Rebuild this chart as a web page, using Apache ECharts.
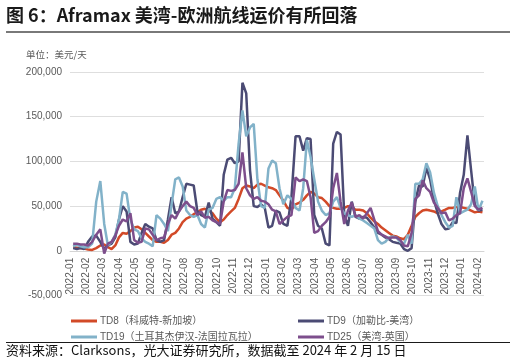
<!DOCTYPE html>
<html><head><meta charset="utf-8">
<script src="https://cdn.jsdelivr.net/npm/echarts@6/dist/echarts.min.js"></script>
<style>html,body{margin:0;padding:0;background:#fff;}#c{width:516px;height:364px;}</style>
</head><body><div id="c"></div>
<script>
// weekly observation dates
const dates = [
'2022-01-07','2022-01-14','2022-01-21','2022-01-28','2022-02-04','2022-02-11','2022-02-18','2022-02-25',
'2022-03-04','2022-03-11','2022-03-18','2022-03-25','2022-04-01','2022-04-08','2022-04-15','2022-04-22','2022-04-29',
'2022-05-06','2022-05-13','2022-05-20','2022-05-27','2022-06-03','2022-06-10','2022-06-17','2022-06-24',
'2022-07-01','2022-07-08','2022-07-15','2022-07-22','2022-07-29','2022-08-05','2022-08-12','2022-08-19','2022-08-26',
'2022-09-02','2022-09-09','2022-09-16','2022-09-23','2022-09-30','2022-10-07','2022-10-14','2022-10-21','2022-10-28',
'2022-11-04','2022-11-11','2022-11-18','2022-11-25','2022-12-02','2022-12-09','2022-12-16','2022-12-23','2022-12-30',
'2023-01-06','2023-01-13','2023-01-20','2023-01-27','2023-02-03','2023-02-10','2023-02-17','2023-02-24',
'2023-03-03','2023-03-10','2023-03-17','2023-03-24','2023-03-31','2023-04-07','2023-04-14','2023-04-21','2023-04-28',
'2023-05-05','2023-05-12','2023-05-19','2023-05-26','2023-06-02','2023-06-09','2023-06-16','2023-06-23','2023-06-30',
'2023-07-07','2023-07-14','2023-07-21','2023-07-28','2023-08-04','2023-08-11','2023-08-18','2023-08-25',
'2023-09-01','2023-09-08','2023-09-15','2023-09-22','2023-09-29','2023-10-06','2023-10-13','2023-10-20','2023-10-27',
'2023-11-03','2023-11-10','2023-11-17','2023-11-24','2023-12-01','2023-12-08','2023-12-15','2023-12-22','2023-12-29',
'2024-01-05','2024-01-12','2024-01-19','2024-01-26','2024-02-02','2024-02-09'
];
// values in thousand USD/day
const td8 = [4,3.5,3,2.5,1.5,1,3,6,7,4,2,6,15,20,19,22,26,27,24,20,16,12,10,10,9,12,18,20,25,32,36,38,41,43,46,47,45,42,36,32,
35,40,44,48,58,70,73,72,70,74,75,73,71,70,68,62,56,48,46,52,54,57,62,66,64,60,59,55,50,48,47,47,48,50,49,46,46,45,42,37,
33,30,26,23,20,17,16,14,13,18,28,38,42,45,46,45,44,42,44,46,48,48,49,49,48,47,45,43,44,43];
const td9 = [3,2,3,2,10,16,17,10,2,6,8,15,35,50,44,10,7,8,20,30,27,25,12,10,12,35,60,42,44,60,75,74,73,44,40,38,54,36,32,28,
85,102,104,98,100,188,176,90,50,49,52,48,26,28,45,43,30,28,60,128,128,112,126,125,40,28,25,8,6,120,133,130,40,28,55,38,36,38,37,32,
26,20,18,15,13,10,9,8,2,0,3,55,73,72,93,80,57,42,30,24,25,32,31,65,85,129,90,52,45,46];
const td19 = [5,7,5,4,4,8,55,78,30,6,10,18,35,66,64,35,24,22,14,10,8,5,40,36,30,22,52,80,82,72,45,40,38,40,30,26,46,48,58,60,
56,60,60,70,120,157,128,138,142,80,50,48,92,101,98,70,52,62,58,48,45,70,124,105,80,55,45,40,42,55,60,48,42,40,38,40,36,34,31,28,
25,12,8,10,15,16,15,10,8,18,8,75,75,80,98,88,65,50,40,32,26,28,60,42,44,46,52,72,45,56];
const td25 = [8,8,7,7,6,10,18,24,-3,8,10,17,28,35,33,42,12,9,10,25,24,18,12,14,15,30,40,36,44,50,55,50,48,40,44,37,38,34,32,30,
55,68,67,68,75,110,70,62,58,60,56,55,52,46,44,30,34,38,40,82,78,80,78,60,20,22,28,32,38,70,87,55,30,45,54,38,40,36,42,48,
35,22,18,16,14,15,15,12,6,5,20,58,62,79,70,66,54,48,42,43,34,36,40,42,70,81,66,50,46,48];
const seriesNames = ['TD8（科威特-新加坡）','TD9（加勒比-美湾）','TD19（土耳其杰伊汉-法国拉瓦拉）','TD25（美湾-英国）'];
const monthLabels = ['2022-01','2022-02','2022-03','2022-04','2022-05','2022-06','2022-07','2022-08','2022-09','2022-10','2022-11','2022-12',
'2023-01','2023-02','2023-03','2023-04','2023-05','2023-06','2023-07','2023-08','2023-09','2023-10','2023-11','2023-12','2024-01','2024-02'];
const colors = ['#d24a28','#4b4b74','#82b2c9','#7d4e8c'];

function monthPos(d){
  const [y,m,day] = d.split('-').map(Number);
  const dim = new Date(y, m, 0).getDate();
  return (y-2022)*12 + (m-1) + (day-1)/dim;
}
const allVals = [td8, td9, td19, td25];
const latin = 'Liberation Sans, Noto Sans CJK SC, sans-serif';
const cjk = 'Noto Sans CJK SC, sans-serif';

const chart = echarts.init(document.getElementById('c'), null, {renderer:'canvas'});
chart.setOption({
  animation:false,
  color: colors,
  grid:{left:70, right:32, top:72, height:223.5},
  xAxis:{
    type:'value', min:0, max:25.37, interval:1, position:'bottom', offset:-44.7,
    axisLine:{onZero:false, lineStyle:{color:'#d4d4d4', width:1}},
    axisTick:{show:false},
    splitLine:{show:false},
    axisLabel:{rotate:90, margin:7, color:'#595959', fontSize:10, fontFamily:latin,
      formatter:function(v){ return Number.isInteger(v) && monthLabels[v] ? monthLabels[v] : ''; }}
  },
  yAxis:{
    type:'value', min:-50000, max:200000, interval:50000,
    axisLine:{show:false, onZero:false}, axisTick:{show:false},
    splitLine:{lineStyle:{color:'#dedede', width:1}},
    axisLabel:{margin:8, color:'#595959', fontSize:10, fontFamily:latin,
      formatter:function(v){ return v.toLocaleString('en-US'); }}
  },
  legend:[
    {orient:'vertical', left:66, top:308, itemGap:0, icon:'rect', itemWidth:26, itemHeight:3,
     textStyle:{color:'#595959', fontSize:10, fontFamily:latin, lineHeight:16, padding:[0,0,0,-2]},
     data:[seriesNames[0], seriesNames[2]]},
    {orient:'vertical', left:293, top:308, itemGap:0, icon:'rect', itemWidth:26, itemHeight:3,
     textStyle:{color:'#595959', fontSize:10, fontFamily:latin, lineHeight:16, padding:[0,0,0,-2]},
     data:[seriesNames[1], seriesNames[3]]}
  ],
  series: allVals.map((vals, si) => ({
    name: seriesNames[si], type:'line', showSymbol:false, symbol:'none',
    lineStyle:{width:2.5, color:colors[si]}, itemStyle:{color:colors[si]},
    data: dates.map((d,i) => [monthPos(d), vals[i]*1000])
  })),
  graphic:[
    {type:'text', left:6, top:6, style:{text:'图 6：Aframax 美湾-欧洲航线运价有所回落', font:'bold 18px '+cjk, fill:'#1a1a1a'}},
    {type:'line', shape:{x1:6, y1:32, x2:510, y2:32}, style:{stroke:'#4d4d4d', lineWidth:1.5}},
    {type:'text', left:26, top:50, style:{text:'单位：美元/天', font:'9.5px '+cjk, fill:'#595959'}},
    {type:'line', shape:{x1:6, y1:342.5, x2:510, y2:342.5}, style:{stroke:'#1a1a1a', lineWidth:1.2}},
    {type:'text', left:6, top:344, style:{text:'资料来源：Clarksons，光大证券研究所，数据截至 2024 年 2 月 15 日', font:'13px '+cjk, fill:'#111'}}
  ]
});
</script></body></html>
